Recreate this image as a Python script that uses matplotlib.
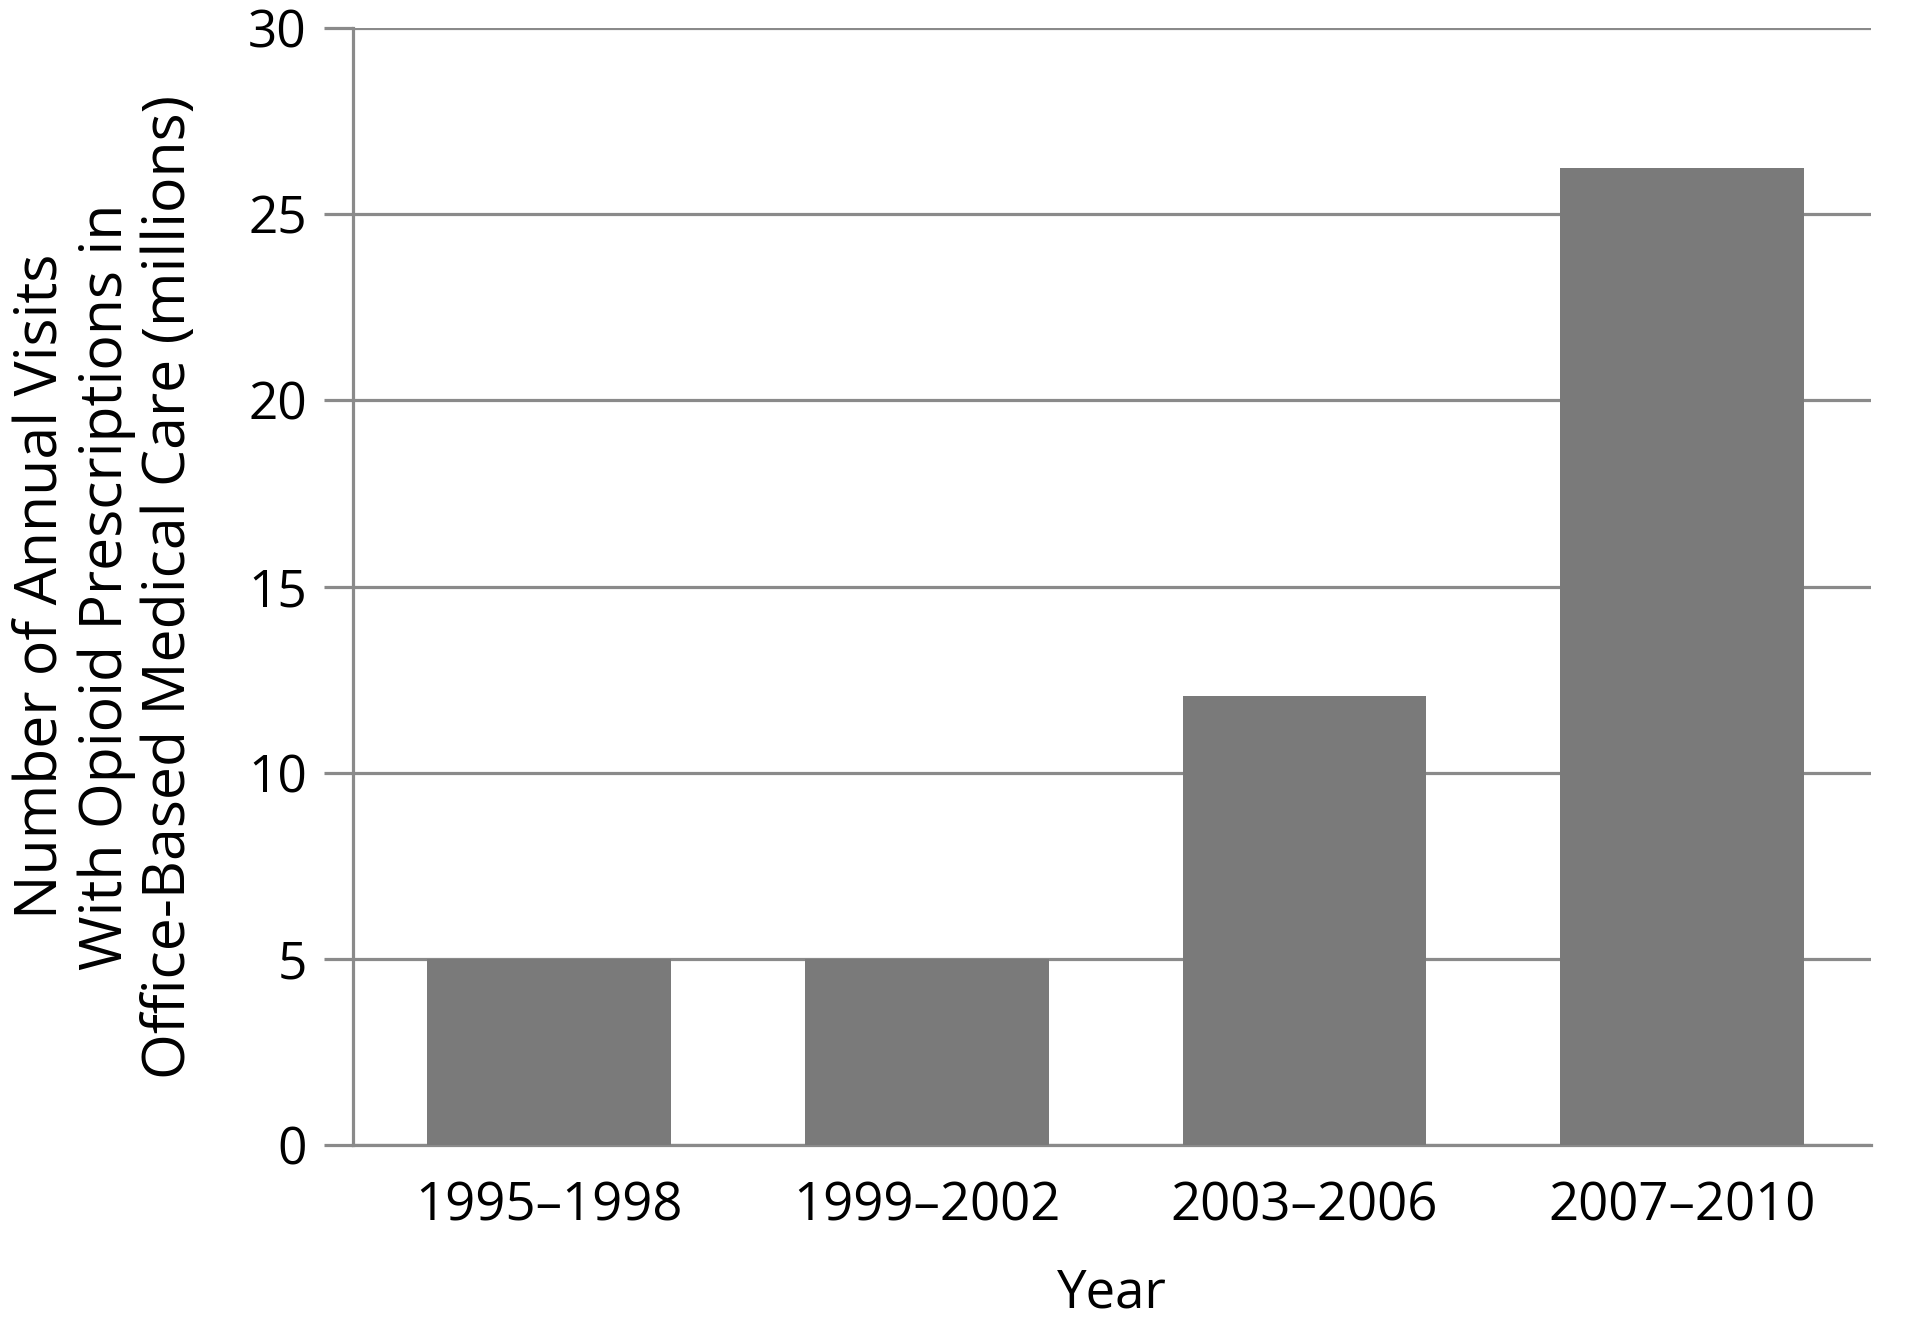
import numpy as np
import matplotlib
matplotlib.use('Agg')
import matplotlib.pyplot as plt

# data
periods = ['1995\u20131998', '1999\u20132002', '2003\u20132006', '2007\u20132010']
visits = [5.0, 5.0, 12.05, 26.25]
yticks = [0, 5, 10, 15, 20, 25, 30]

plt.rcParams['font.family'] = ['Open Sans', 'DejaVu Sans']

linecol = '#8a8a8a'
barcol = '#7a7a7a'
lw = 2.3

fig = plt.figure(figsize=(19.2, 13.22), dpi=100)
ax = fig.add_axes([0.1837, 0.1339, 0.7908, 0.8449])

x = np.arange(len(periods))
ax.bar(x, visits, width=0.645, color=barcol, zorder=3)

ax.set_xlim(-0.52, 3.5)
ax.set_ylim(0, 30)
ax.set_yticks(yticks)
ax.set_xticks(x)
ax.set_xticklabels(periods)

ax.grid(axis='y', color=linecol, linewidth=lw, zorder=0)
ax.set_axisbelow(True)

for s in ['top', 'right']:
    ax.spines[s].set_visible(False)
for s in ['left', 'bottom']:
    ax.spines[s].set_color(linecol)
    ax.spines[s].set_linewidth(lw)

ax.tick_params(axis='y', length=21, width=lw, color=linecol, labelsize=37, pad=12)
ax.tick_params(axis='x', length=0, labelsize=38, pad=25)

ax.set_xlabel('Year', fontsize=38, labelpad=24)
ax.set_ylabel('Number of Annual Visits\nWith Opioid Prescriptions in\nOffice-Based Medical Care (millions)',
              fontsize=42.5, labelpad=35, linespacing=1.12)

fig.savefig('out.png', dpi=100)
